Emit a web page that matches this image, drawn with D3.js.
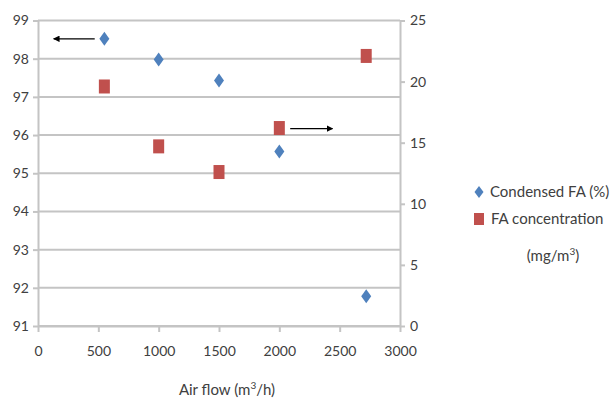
<!DOCTYPE html>
<html>
<head>
<meta charset="utf-8">
<script src="https://cdn.jsdelivr.net/npm/d3@7"></script>
<style>
  body { margin: 0; background: #fff; }
  svg text { font-family: Lato, "Open Sans", sans-serif; fill: #404040; }
</style>
</head>
<body>
<svg width="614" height="401"></svg>
<script>
// data
var airFlow = [550, 1000, 1500, 2000, 2720];
var condensedFA = [98.52, 97.98, 97.43, 95.57, 91.78];   // left axis, %
var faConc = [19.6, 14.7, 12.6, 16.2, 22.1];              // right axis, mg/m3
var xTicks = [0, 500, 1000, 1500, 2000, 2500, 3000];
var yLeftTicks = [91, 92, 93, 94, 95, 96, 97, 98, 99];
var yRightTicks = [0, 5, 10, 15, 20, 25];

var blue = "#4f81bd";
var red = "#c0504d";
var grid = "#c4c4c4";

var svg = d3.select("svg");
var plotLeft = 38, plotRight = 400, plotTop = 20.5, plotBottom = 326;

var x = d3.scaleLinear().domain([0, 3000]).range([plotLeft, plotRight]);
var yL = d3.scaleLinear().domain([91, 99]).range([plotBottom, plotTop]);
var yR = d3.scaleLinear().domain([0, 25]).range([plotBottom, plotTop]);

// gridlines
svg.append("g").selectAll("line")
    .data(yLeftTicks)
    .enter().append("line")
    .attr("x1", plotLeft).attr("x2", plotRight)
    .attr("y1", function (d) { return yL(d); })
    .attr("y2", function (d) { return yL(d); })
    .attr("stroke", grid)
    .attr("stroke-width", 2);

function styleAxis(g) {
    g.select(".domain").attr("stroke", grid).attr("stroke-width", 2);
    g.selectAll(".tick line").attr("stroke", grid).attr("stroke-width", 2);
    g.selectAll(".tick text")
        .style("font-size", "14px")
        .attr("fill", "#404040");
}

svg.append("g")
    .attr("transform", "translate(" + plotLeft + ",0)")
    .call(d3.axisLeft(yL).tickValues(yLeftTicks).tickFormat(d3.format("d"))
        .tickSize(5).tickSizeOuter(0).tickPadding(4))
    .call(styleAxis);

svg.append("g")
    .attr("transform", "translate(" + plotRight + ",0)")
    .call(d3.axisRight(yR).tickValues(yRightTicks).tickFormat(d3.format("d"))
        .tickSize(5).tickSizeOuter(0).tickPadding(5))
    .call(styleAxis);

svg.append("g")
    .attr("transform", "translate(0," + plotBottom + ")")
    .call(d3.axisBottom(x).tickValues(xTicks).tickFormat(d3.format("d"))
        .tickSize(6).tickSizeOuter(0).tickPadding(14))
    .call(styleAxis);

// x title
var xt = svg.append("text")
    .attr("x", 227).attr("y", 395)
    .attr("text-anchor", "middle")
    .style("font-size", "15px");
xt.append("tspan").text("Air flow (m");
xt.append("tspan").attr("dy", -6).style("font-size", "10px").text("3");
xt.append("tspan").attr("dy", 6).text("/h)");

// series
var diamond = "M0,-7L5,0L0,7L-5,0Z";
svg.append("g").selectAll("path")
    .data(airFlow)
    .enter().append("path")
    .attr("d", diamond)
    .attr("fill", blue)
    .attr("transform", function (d, i) {
        return "translate(" + x(d) + "," + yL(condensedFA[i]) + ")";
    });

svg.append("g").selectAll("rect")
    .data(airFlow)
    .enter().append("rect")
    .attr("x", function (d) { return x(d) - 5.5; })
    .attr("y", function (d, i) { return yR(faConc[i]) - 7; })
    .attr("width", 11).attr("height", 14)
    .attr("fill", red);

// arrows pointing at the axis each series belongs to
var defs = svg.append("defs");
defs.append("marker")
    .attr("id", "head")
    .attr("viewBox", "0 0 10 10")
    .attr("refX", 9).attr("refY", 5)
    .attr("markerWidth", 5).attr("markerHeight", 5)
    .attr("orient", "auto")
    .append("path").attr("d", "M0,0L10,5L0,10Z").attr("fill", "#000");

svg.append("line")
    .attr("x1", x(470)).attr("x2", x(130))
    .attr("y1", yL(98.52)).attr("y2", yL(98.52))
    .attr("stroke", "#000").attr("stroke-width", 1.3)
    .attr("marker-end", "url(#head)");

svg.append("line")
    .attr("x1", x(2090)).attr("x2", x(2440))
    .attr("y1", yR(16.15)).attr("y2", yR(16.15))
    .attr("stroke", "#000").attr("stroke-width", 1.3)
    .attr("marker-end", "url(#head)");

// legend
var lg = svg.append("g");
lg.append("path").attr("d", "M0,-6L4.5,0L0,6L-4.5,0Z")
    .attr("fill", blue).attr("transform", "translate(479,192)");
lg.append("text").attr("x", 490).attr("y", 197)
    .style("font-size", "15px").text("Condensed FA (%)");
lg.append("rect").attr("x", 474).attr("y", 213).attr("width", 10).attr("height", 12)
    .attr("fill", red);
lg.append("text").attr("x", 491).attr("y", 224)
    .style("font-size", "15px").text("FA concentration");
var lt = lg.append("text").attr("x", 553).attr("y", 261)
    .attr("text-anchor", "middle")
    .style("font-size", "15px");
lt.append("tspan").text("(mg/m");
lt.append("tspan").attr("dy", -6).style("font-size", "10px").text("3");
lt.append("tspan").attr("dy", 6).text(")");
</script>
</body>
</html>
